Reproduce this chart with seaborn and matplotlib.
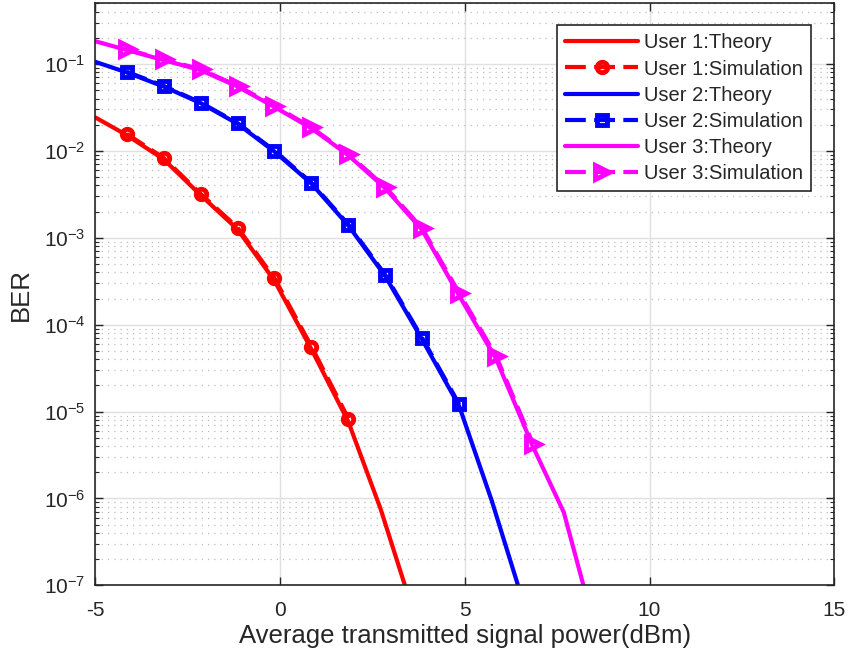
import matplotlib
matplotlib.use('Agg')
import matplotlib.pyplot as plt
import matplotlib.ticker as mticker
import numpy as np
import pandas as pd
import seaborn as sns

# simulation points (same x grid for all users, different lengths)
x_sim = [-4.15, -3.15, -2.15, -1.15, -0.15, 0.85, 1.85, 2.85, 3.85, 4.85, 5.85, 6.85]

user1_sim = [0.0157, 0.0083, 0.0032, 0.00131, 3.42e-4, 5.6e-5, 8.3e-6]
user2_sim = [0.0816, 0.056, 0.036, 0.0209, 0.01006, 0.0043, 0.00142, 3.73e-4, 7.0e-5, 1.21e-5]
user3_sim = [0.147, 0.113, 0.087, 0.056, 0.033, 0.0186, 0.0092, 3.83e-3, 1.28e-3, 2.30e-4, 4.33e-5, 4.2e-6]

# theory curves
x_th1 = [-5.0, -4.15, -3.15, -2.15, -1.15, -0.15, 0.85, 1.85, 2.72, 3.72]
user1_th = [0.0243, 0.0152, 0.0080, 0.0031, 1.25e-3, 3.2e-4, 5.2e-5, 7.6e-6, 7.6e-7, 3.5e-8]

x_th2 = [-5.0, -4.15, -3.15, -2.15, -1.15, -0.15, 0.85, 1.85, 2.85, 3.85, 4.85, 5.73, 6.73]
user2_th = [0.106, 0.080, 0.055, 0.0355, 0.0205, 0.0098, 0.0042, 1.38e-3, 3.6e-4, 6.7e-5, 1.15e-5, 9.4e-7, 4.0e-8]

x_th3 = [-5.0, -4.15, -3.15, -2.15, -1.15, -0.15, 0.85, 1.85, 2.85, 3.85, 4.85, 5.85, 6.85, 7.68, 8.68]
user3_th = [0.183, 0.145, 0.111, 0.085, 0.055, 0.032, 0.0182, 0.0089, 3.7e-3, 1.22e-3, 2.15e-4, 4.0e-5, 3.9e-6, 6.9e-7, 1.8e-8]

sns.set_style('ticks')
plt.rcParams['font.family'] = ['Liberation Sans', 'DejaVu Sans']
plt.rcParams['axes.unicode_minus'] = False
plt.rcParams['mathtext.default'] = 'regular'

ink = '#262626'
fig = plt.figure(figsize=(8.47, 6.58), dpi=100)
ax = fig.add_axes([0.1125, 0.1105, 0.8725, 0.8845])

series = [
    ('User 1:Theory', x_th1, user1_th, 'red', '-', None, 0),
    ('User 1:Simulation', x_sim[:len(user1_sim)], user1_sim, 'red', (0, (5, 2)), 'o', 7.5),
    ('User 2:Theory', x_th2, user2_th, 'blue', '-', None, 0),
    ('User 2:Simulation', x_sim[:len(user2_sim)], user2_sim, 'blue', (0, (5, 2)), 's', 7),
    ('User 3:Theory', x_th3, user3_th, 'magenta', '-', None, 0),
    ('User 3:Simulation', x_sim[:len(user3_sim)], user3_sim, 'magenta', (0, (5, 2)), '>', 10),
]

for label, xs, ys, col, ls, mk, ms in series:
    df = pd.DataFrame({'x': xs, 'ber': ys})
    kw = dict(marker=mk, markersize=ms, markerfacecolor='none',
              markeredgewidth=3.5, markeredgecolor=col) if mk else {}
    sns.lineplot(data=df, x='x', y='ber', ax=ax, color=col, linestyle=ls,
                 linewidth=3, label=label, **kw)

ax.set_yscale('log')
ax.set_xlim(-5, 15)
ax.set_ylim(1e-7, 0.5)
ax.set_xticks([-5, 0, 5, 10, 15])
ax.yaxis.set_major_locator(mticker.LogLocator(base=10, numticks=20))
ax.yaxis.set_minor_locator(mticker.LogLocator(base=10, subs=np.arange(2, 10), numticks=20))
ax.yaxis.set_minor_formatter(mticker.NullFormatter())

ax.set_axisbelow(True)
ax.grid(True, which='major', color='#e0e0e0', linewidth=1.0, linestyle='-')
ax.grid(True, which='minor', axis='y', color='#bdbdbd', linewidth=0.9, linestyle=(0, (1, 4)))

for sp in ax.spines.values():
    sp.set_color(ink)
    sp.set_linewidth(1.2)
    sp.set_visible(True)
ax.tick_params(which='both', direction='in', top=True, right=True, colors=ink,
               labelcolor=ink, labelsize=15)
ax.tick_params(axis='x', which='major', pad=11.5)
ax.tick_params(axis='y', which='major', pad=7)
ax.tick_params(which='major', length=6, width=1)
ax.tick_params(which='minor', length=3, width=0.8)

ax.set_xlabel('Average transmitted signal power(dBm)', fontsize=18.5, color=ink, labelpad=3)
ax.set_ylabel('BER', fontsize=18.5, color=ink, labelpad=8)

leg = ax.legend(loc='upper right', bbox_to_anchor=(0.9685, 0.962), fontsize=14.5,
                frameon=True, fancybox=False, edgecolor=ink, framealpha=1,
                handlelength=3.6, borderpad=0.4, labelspacing=0.35, handletextpad=0.3,
                borderaxespad=0)
leg.get_frame().set_linewidth(1.2)

fig.savefig('out.png', dpi=100)
